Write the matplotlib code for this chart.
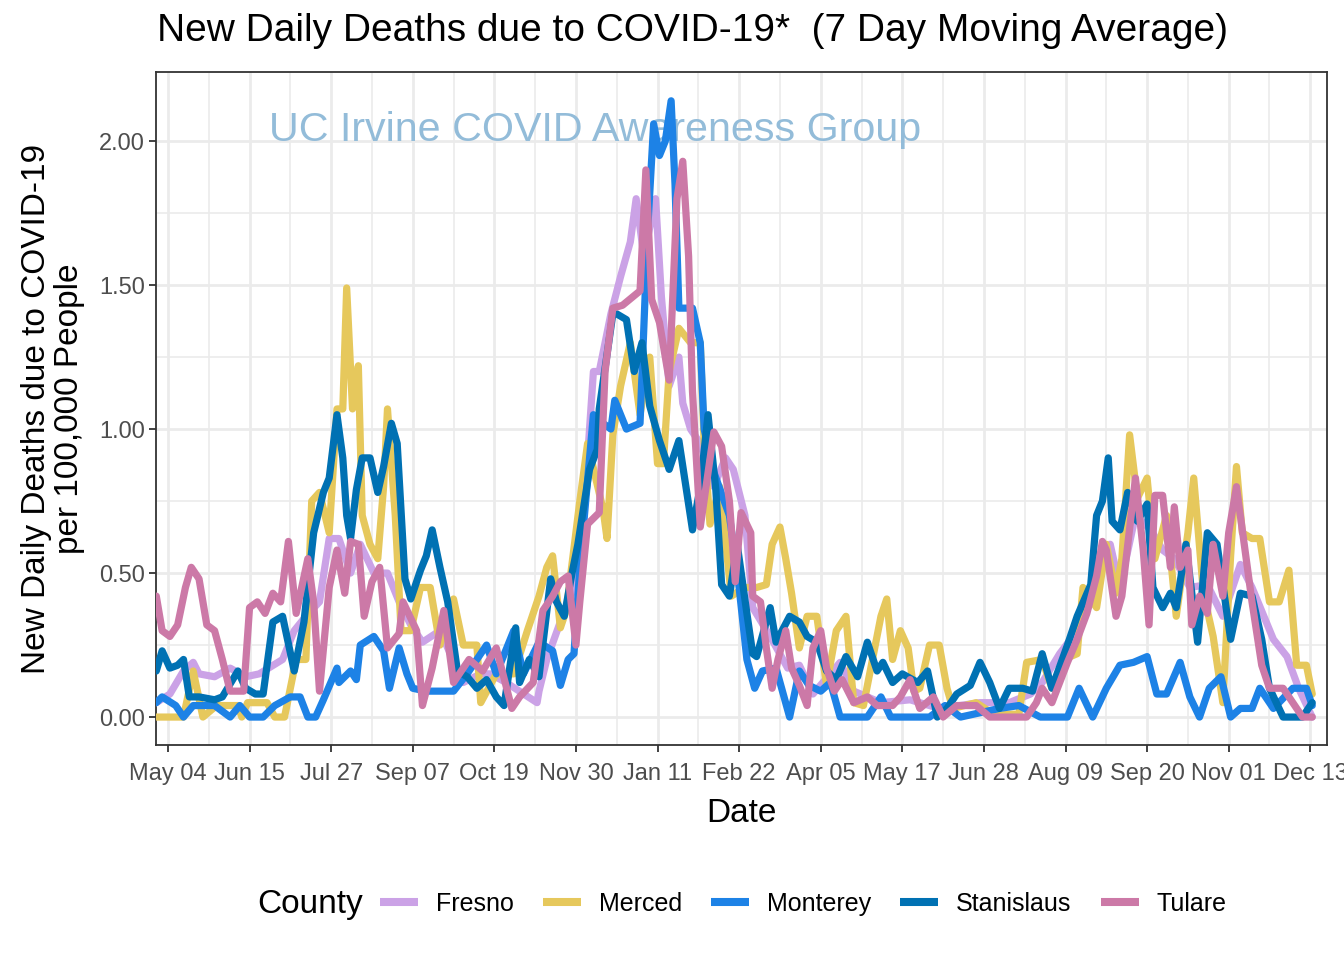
import matplotlib
matplotlib.use("Agg")
import matplotlib.pyplot as plt
import matplotlib.dates as mdates
from matplotlib.lines import Line2D
import pandas as pd

plt.rcParams['font.family'] = ['Liberation Sans', 'DejaVu Sans']

START = pd.Timestamp('2020-04-28')

# (days since 2020-04-28, deaths per 100k, 7-day avg)
fresno = [(0,.05),(7,.08),(14,.16),(19,.19),(22,.15),(30,.14),(38,.17),(46,.14),(53,.15),(65,.20),(71,.30),(77,.35),(84,.40),(89,.62),(94,.62),(100,.50),(105,.60),(112,.50),(119,.50),(125,.40),(131,.32),(137,.26),(146,.30),(158,.12),(167,.15),(172,.15),(180,.12),(196,.05),(197,.09),(201,.20),(209,.35),(215,.45),(221,.80),(225,1.20),(228,1.20),(234,1.40),(239,1.53),(244,1.65),(247,1.80),(251,1.60),(257,1.80),(260,1.46),(264,1.15),(269,1.25),(271,1.09),(275,1.00),(280,.95),(287,.80),(293,.90),(297,.86),(303,.70),(307,.38),(316,.28),(325,.17),(331,.18),(338,.08),(352,.19),(359,.09),(373,.05),(388,.06),(403,.03),(424,.05),(439,.05),(450,.08),(456,.12),(465,.22),(474,.30),(481,.40),(486,.55),(491,.60),(496,.45),(504,.70),(512,.65),(518,.58),(524,.55),(532,.45),(541,.46),(549,.35),(558,.53),(564,.45),(575,.27),(582,.21),(588,.10),(595,.00)]

merced = [(0,0),(14,0),(19,.16),(24,0),(31,.04),(42,.04),(44,0),(47,.05),(57,.05),(61,0),(66,0),(72,.20),(77,.20),(80,.75),(84,.78),(89,.64),(93,1.07),(96,1.07),(98,1.49),(101,1.07),(104,1.22),(106,.70),(110,.60),(114,.55),(117,.80),(119,1.07),(123,.70),(126,.30),(131,.30),(136,.45),(141,.45),(146,.25),(153,.41),(158,.25),(165,.25),(167,.05),(175,.15),(184,.15),(191,.30),(197,.42),(201,.52),(204,.56),(208,.31),(211,.37),(218,.75),(222,.95),(230,.72),(232,.62),(235,.98),(239,1.15),(244,1.30),(249,1.05),(254,1.25),(258,.88),(261,.88),(264,1.20),(269,1.35),(275,1.30),(280,1.30),(282,.95),(285,.67),(290,.80),(296,.42),(303,.45),(309,.45),(314,.46),(317,.60),(321,.66),(324,.55),(327,.43),(331,.24),(335,.35),(340,.35),(345,.11),(350,.30),(355,.35),(359,.05),(364,.04),(373,.35),(376,.41),(379,.20),(383,.30),(387,.24),(390,.09),(393,.10),(398,.25),(403,.25),(407,.10),(410,.03),(422,.05),(431,.01),(444,.01),(448,.19),(456,.20),(461,.10),(467,.20),(474,.22),(477,.45),(484,.38),(489,.60),(494,.43),(497,.55),(501,.98),(505,.76),(510,.83),(514,.55),(520,.70),(525,.35),(531,.64),(534,.83),(539,.43),(544,.28),(549,.05),(553,.56),(556,.87),(559,.64),(564,.62),(568,.62),(573,.40),(578,.40),(583,.51),(587,.18),(592,.18),(595,.08)]

monterey = [(0,.05),(3,.07),(10,.04),(14,0),(19,.04),(30,.04),(38,0),(43,.04),(48,0),(55,0),(61,.04),(69,.07),(74,.07),(78,0),(82,0),(86,.06),(93,.17),(94,.12),(100,.16),(103,.13),(105,.25),(112,.28),(117,.23),(120,.10),(125,.24),(129,.15),(132,.10),(139,.09),(153,.09),(160,.15),(170,.25),(175,.15),(184,.30),(189,.15),(197,.26),(204,.23),(208,.11),(212,.20),(215,.22),(218,.52),(225,1.05),(228,1.03),(234,1.00),(236,1.10),(242,1.00),(249,1.02),(253,1.70),(256,2.06),(259,1.95),(262,2.00),(265,2.14),(267,1.85),(269,1.42),(276,1.42),(280,1.30),(282,1.00),(287,.85),(295,.70),(300,.45),(304,.20),(308,.10),(312,.16),(319,.17),(326,0),(331,.16),(336,.11),(342,.09),(347,.12),(352,0),(366,0),(373,.07),(378,0),(398,0),(406,.04),(414,0),(434,.03),(444,.04),(455,0),(469,0),(475,.10),(482,0),(489,.10),(496,.18),(503,.19),(510,.21),(515,.08),(520,.08),(527,.19),(532,.07),(537,0),(542,.10),(548,.14),(553,0),(558,.03),(564,.03),(568,.10),(575,.03),(585,.10),(592,.10),(595,.04)]

stanislaus = [(0,.16),(3,.23),(7,.17),(11,.18),(14,.20),(17,.07),(22,.07),(30,.06),(34,.07),(42,.16),(46,.10),(51,.08),(55,.08),(60,.33),(65,.35),(71,.16),(76,.33),(81,.64),(86,.78),(89,.83),(93,1.05),(96,.90),(98,.70),(100,.62),(103,.79),(106,.90),(110,.90),(114,.78),(117,.87),(121,1.02),(124,.95),(128,.48),(131,.41),(136,.51),(139,.56),(142,.65),(146,.52),(150,.40),(155,.16),(160,.14),(165,.10),(170,.13),(175,.07),(179,.04),(185,.31),(187,.12),(192,.20),(197,.14),(203,.48),(206,.40),(210,.35),(214,.50),(217,.60),(223,.86),(227,.93),(228,1.07),(235,1.40),(237,1.40),(242,1.38),(246,1.20),(250,1.30),(254,1.08),(259,.96),(264,.86),(269,.96),(276,.65),(280,.80),(284,1.05),(288,.79),(291,.46),(295,.42),(299,.60),(304,.36),(307,.22),(309,.21),(316,.38),(319,.26),(326,.35),(331,.33),(335,.28),(340,.26),(345,.16),(350,.13),(355,.21),(361,.14),(366,.26),(371,.16),(374,.19),(379,.12),(384,.15),(392,.12),(397,.16),(402,.00),(407,.03),(412,.08),(419,.11),(424,.19),(429,.12),(434,.03),(439,.10),(446,.10),(451,.09),(456,.22),(461,.10),(469,.25),(474,.35),(481,.46),(484,.70),(487,.75),(490,.90),(492,.68),(496,.65),(500,.78),(505,.68),(510,.74),(513,.45),(518,.38),(522,.43),(525,.38),(530,.60),(536,.26),(541,.64),(546,.60),(553,.27),(558,.43),(564,.42),(569,.27),(573,.10),(580,.00),(590,.00),(595,.05)]

tulare = [(0,.42),(3,.30),(7,.28),(11,.32),(15,.45),(18,.52),(22,.48),(26,.32),(30,.30),(34,.20),(38,.09),(45,.09),(48,.38),(52,.40),(56,.36),(60,.43),(64,.40),(68,.61),(72,.36),(78,.55),(81,.40),(84,.09),(89,.45),(93,.58),(97,.43),(100,.61),(104,.60),(107,.35),(111,.47),(115,.52),(119,.24),(125,.29),(127,.40),(134,.30),(137,.04),(142,.17),(148,.37),(153,.12),(161,.20),(168,.16),(175,.24),(183,.03),(187,.07),(194,.12),(199,.37),(204,.42),(208,.47),(212,.49),(216,.25),(218,.40),(222,.67),(228,.71),(231,1.20),(235,1.42),(240,1.43),(249,1.48),(252,1.90),(255,1.45),(259,1.37),(264,1.17),(268,1.80),(271,1.93),(274,1.60),(276,1.13),(280,.66),(284,.85),(287,.99),(291,.94),(295,.75),(298,.47),(301,.71),(306,.64),(307,.42),(311,.40),(314,.24),(317,.10),(320,.20),(324,.30),(327,.17),(331,.11),(335,.04),(338,.24),(342,.30),(345,.17),(349,.09),(353,.13),(359,.05),(366,.07),(371,.04),(379,.04),(383,.07),(388,.13),(393,.03),(400,.07),(405,.00),(412,.04),(422,.04),(429,.00),(448,.00),(453,.05),(456,.10),(461,.05),(469,.19),(474,.27),(479,.36),(484,.49),(487,.61),(489,.58),(494,.35),(497,.42),(504,.83),(508,.58),(511,.32),(514,.77),(518,.77),(522,.52),(524,.73),(527,.52),(531,.58),(533,.32),(537,.42),(541,.36),(544,.60),(549,.42),(552,.64),(556,.80),(560,.60),(564,.40),(569,.18),(573,.10),(580,.10),(585,.05),(590,.00),(595,.00)]

counties = ['Fresno', 'Merced', 'Monterey', 'Stanislaus', 'Tulare']
series = [fresno, merced, monterey, stanislaus, tulare]
colors = ['#CBA2E6', '#E6C85C', '#1D82E6', '#0071B3', '#CC79A7']

major_ticks = pd.date_range('2020-05-04', periods=15, freq='42D')
minor_ticks = pd.date_range('2020-05-25', periods=14, freq='42D')
y_major = [0, 0.5, 1.0, 1.5, 2.0]
y_minor = [0.25, 0.75, 1.25, 1.75]

W, H = 1344, 960
fig = plt.figure(figsize=(W / 100, H / 100), dpi=100)
ax = fig.add_axes([156 / W, 1 - 745 / H, (1327 - 156) / W, (745 - 72) / H])

for name, data, col in zip(counties, series, colors):
    d = START + pd.to_timedelta([p[0] for p in data], unit='D')
    v = [p[1] for p in data]
    ax.plot(d, v, color=col, lw=5.2, solid_joinstyle='round', solid_capstyle='round', zorder=3)

ax.set_xlim(START - pd.Timedelta(days=0.15), START + pd.Timedelta(days=602.6))
ax.set_ylim(-0.097, 2.24)

ax.set_xticks(major_ticks)
ax.set_xticks(minor_ticks, minor=True)
ax.xaxis.set_major_formatter(mdates.DateFormatter('%b %d'))
ax.set_yticks(y_major)
ax.set_yticklabels(['%.2f' % t for t in y_major])
ax.set_yticks(y_minor, minor=True)

ax.set_axisbelow(True)
ax.grid(which='major', color='#EBEBEB', lw=2.0)
ax.grid(which='minor', color='#EBEBEB', lw=1.2)
for s in ax.spines.values():
    s.set_color('#333333')
    s.set_linewidth(1.3)
ax.tick_params(which='major', length=5, width=1.3, color='#333333',
               labelcolor='#4D4D4D', labelsize=17)
ax.tick_params(axis='y', which='major', pad=3)
ax.tick_params(axis='x', which='major', pad=8)
ax.tick_params(which='minor', length=0)

ax.set_xlabel('Date', fontsize=24, labelpad=9)
ax.set_ylabel('New Daily Deaths due to COVID-19\nper 100,000 People', fontsize=24,
              labelpad=10, linespacing=1.1)

ax.text(START + pd.Timedelta(days=58), 2.04, 'UC Irvine COVID Awareness Group',
        fontsize=29.7, color='#93BCD9', ha='left', va='center', zorder=1)

fig.text(157 / W, 1 - 31 / H, 'New Daily Deaths due to COVID-19*  (7 Day Moving Average)',
         fontsize=28, ha='left', va='center')

handles = [Line2D([], [], color=c, lw=5.8, solid_capstyle='butt') for c in colors]
fig.legend(handles, counties, loc='center left', bbox_to_anchor=(380 / W, 1 - 904 / H),
           ncol=5, frameon=False, fontsize=18, handlelength=1.52, handletextpad=0.72,
           columnspacing=1.16, borderpad=0, borderaxespad=0)
fig.text(257 / W, 1 - 904 / H, 'County', fontsize=24, ha='left', va='center')

fig.savefig('out.png', dpi=100)
